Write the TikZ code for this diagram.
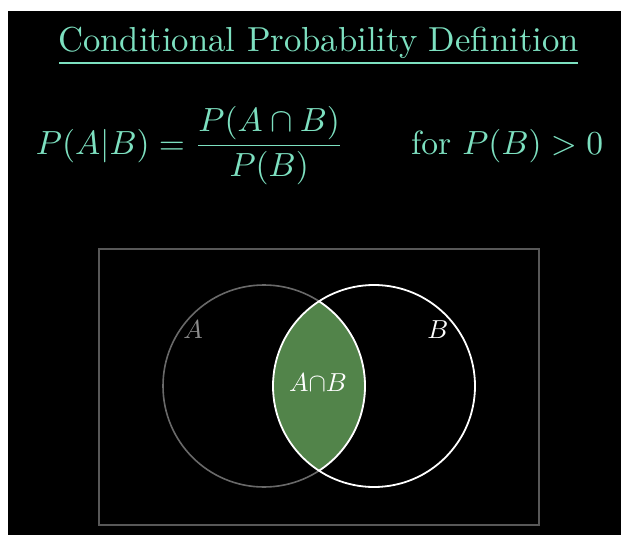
\documentclass[tikz,border=0pt]{standalone}
\usepackage{amsmath}
\usepackage{graphicx}
\definecolor{tealtxt}{RGB}{125,224,192}
\definecolor{boxgray}{RGB}{88,88,88}
\definecolor{agray}{RGB}{105,105,105}
\definecolor{lensgreen}{RGB}{82,132,74}
\definecolor{alabel}{RGB}{140,140,140}
\tikzset{
  titletext/.style={text=tealtxt, inner sep=0pt},
  formulatext/.style={text=tealtxt, inner sep=0pt},
  setlabel/.style={inner sep=0pt},
  universe/.style={draw=boxgray, line width=1.6pt},
}
\begin{document}
\begin{tikzpicture}[x=1pt,y=-1pt]
\useasboundingbox (0,0) rectangle (621,535);
\fill[white] (0,0) rectangle (621,535);
\fill[black] (8,11) rectangle (621,535);
% title
\node[titletext, anchor=base] (title) at (318.5,52) {\scalebox{3.47}{Conditional Probability Definition}};
\coordinate (ul1) at (59,63);
\coordinate (ul2) at (578,63);
\draw[tealtxt, line width=1.8pt] (ul1) -- (ul2);
% formula
\node[formulatext, anchor=base] (formula) at (319.5,154)
  {\scalebox{3.35}{$\displaystyle P(A|B)=\frac{P(A\cap B)}{P(B)}$\qquad for $P(B)>0$}};
% universe box
\coordinate (u1) at (99,249);
\coordinate (u2) at (539,525);
\draw[universe] (u1) rectangle (u2);
% circles
\coordinate (ca) at (264,386);
\coordinate (cb) at (374,386);
\begin{scope}
  \clip (ca) circle[radius=101];
  \fill[lensgreen] (cb) circle[radius=101];
\end{scope}
\draw[agray, line width=1.6pt] (ca) circle[radius=101];
\begin{scope}
  \clip (cb) circle[radius=101];
  \draw[white, line width=1.8pt] (ca) circle[radius=101];
\end{scope}
\draw[white, line width=1.8pt] (cb) circle[radius=101];
% labels
\node[setlabel, text=alabel] (la) at (193,330) {\scalebox{2.6}{$A$}};
\node[setlabel, text=white] (lb) at (438,330) {\scalebox{2.6}{$B$}};
\node[setlabel, text=white] (lab) at (318,383) {\scalebox{2.6}{$A{\cap}B$}};
\end{tikzpicture}
\end{document}
